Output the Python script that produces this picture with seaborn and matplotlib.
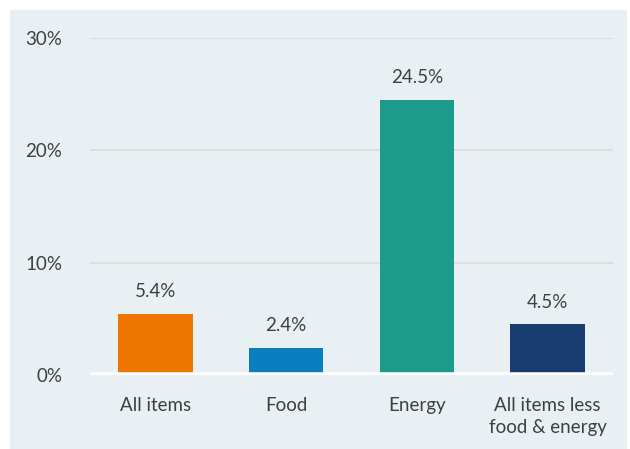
import pandas as pd
import seaborn as sns
import matplotlib.pyplot as plt
from matplotlib.ticker import FuncFormatter
from matplotlib.patches import Rectangle

# Data
categories = ["All items", "Food", "Energy", "All items less\nfood & energy"]
values = [5.4, 2.4, 24.5, 4.5]
colors = ["#EE7601", "#0A7FBF", "#1E9A8A", "#173E6E"]

df = pd.DataFrame({"category": categories, "value": values})

sns.set_theme(style="white")
plt.rcParams["font.family"] = ["Lato", "DejaVu Sans"]

bg = "#E8F0F3"
text_col = "#404040"

fig = plt.figure(figsize=[6.3, 4.49], dpi=100)
fig.patch.set_facecolor("white")
# light panel behind the chart
fig.patches.append(Rectangle((10 / 630, 0), 617 / 630, 439 / 449,
                             transform=fig.transFigure, facecolor=bg,
                             edgecolor="none", zorder=-1))

ax = fig.add_axes([90 / 630, 74 / 449, 523 / 630, 337 / 449])
ax.set_facecolor(bg)
ax.patch.set_alpha(0)

sns.barplot(df, x="category", y="value", hue="category", palette=colors,
            width=0.57, legend=False, saturation=1, linewidth=0,
            ax=ax, zorder=3)

ax.set_ylim(0, 30)
ax.set_yticks([0, 10, 20, 30])
ax.yaxis.set_major_formatter(FuncFormatter(lambda v, p: f"{v:.0f}%"))
ax.grid(axis="y", color="#DCDFE0", linewidth=1.5, zorder=0)
ax.axhline(0, color="white", linewidth=4, zorder=4)
for s in ax.spines.values():
    s.set_visible(False)

ax.set_xlabel("")
ax.set_ylabel("")
ax.tick_params(axis="both", length=0, labelsize=13.5, colors=text_col)
ax.tick_params(axis="y", pad=20)
ax.tick_params(axis="x", pad=16)
for lbl in ax.get_xticklabels():
    lbl.set_linespacing(1.35)

for i, v in enumerate(values):
    ax.annotate(f"{v}%", (i, v), xytext=(0, 10), textcoords="offset points",
                ha="center", va="bottom", fontsize=13.5, color=text_col)

fig.savefig("out.png", dpi=100)
